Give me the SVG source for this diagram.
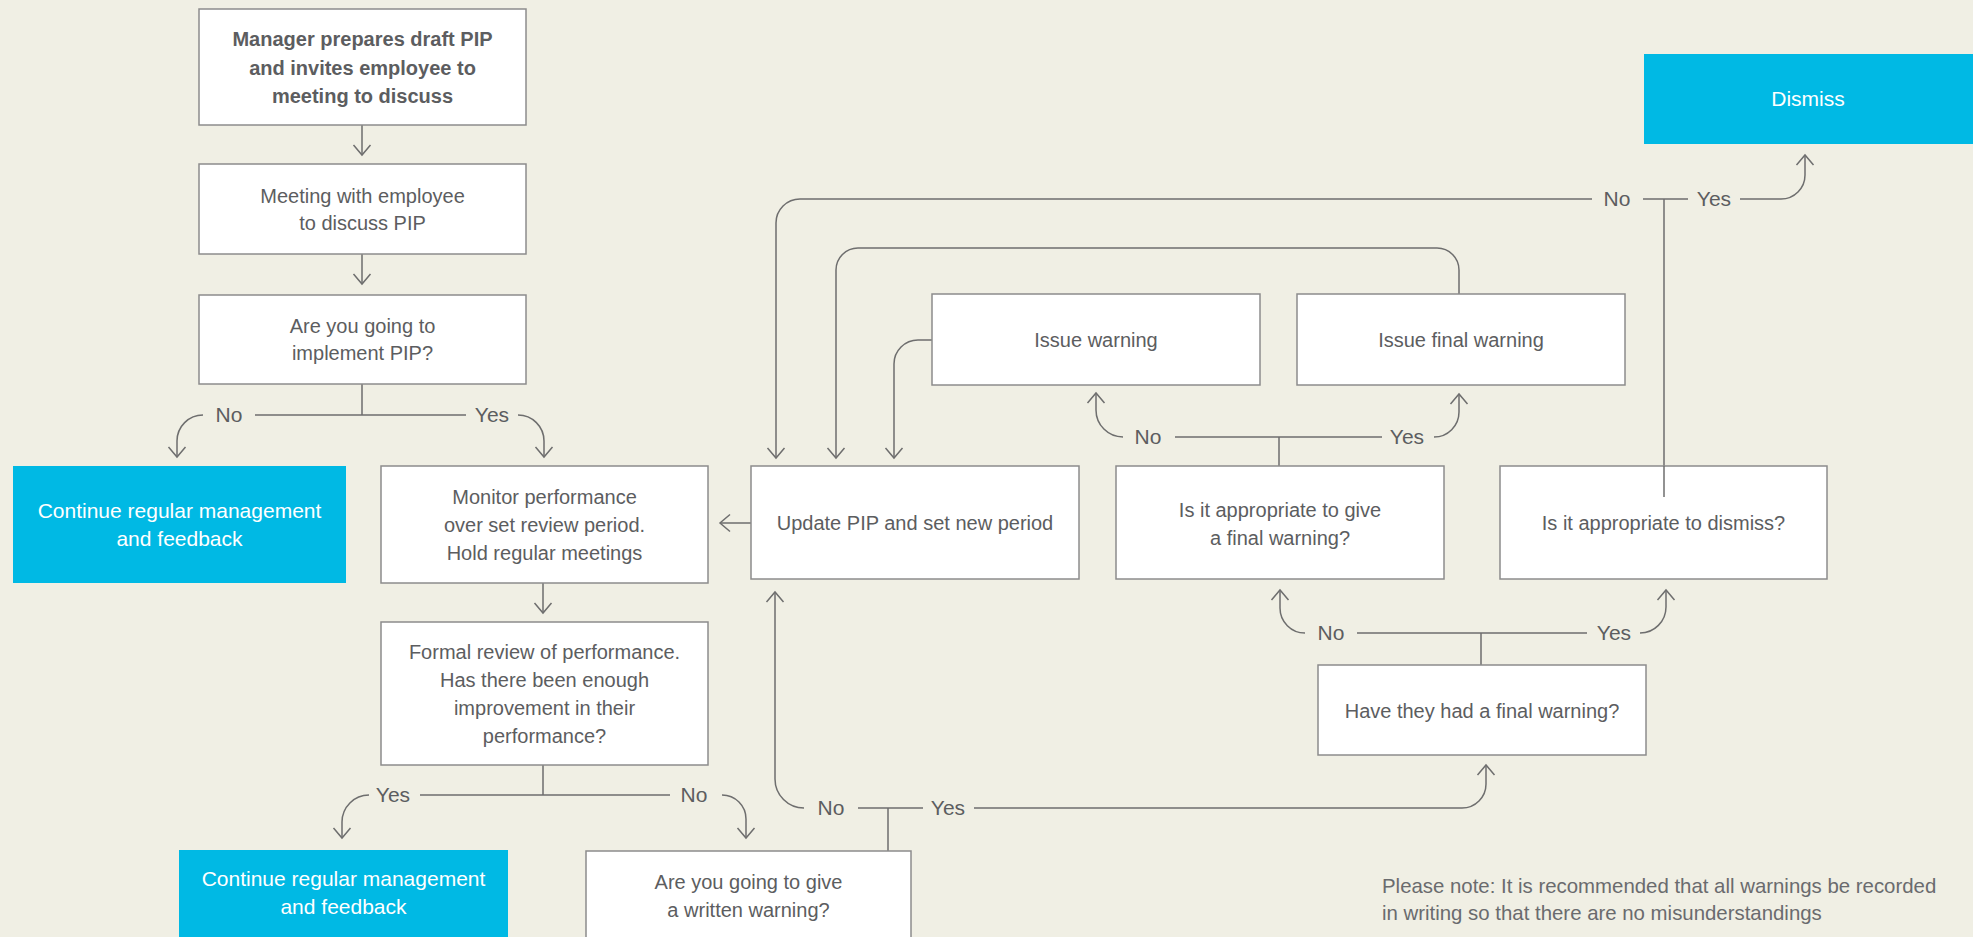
<svg xmlns="http://www.w3.org/2000/svg" width="1973" height="937" viewBox="0 0 1973 937">
<defs>
<style>
.box{fill:#ffffff;stroke:#8c8c8c;stroke-width:1.5}
.blue{fill:#00b9e4}
.t{font-family:"Liberation Sans",Arial,sans-serif;font-size:20px;fill:#5c5d60;text-anchor:middle}
.tb{font-weight:bold}
.tw{fill:#ffffff;font-size:21px}
.lbl{font-family:"Liberation Sans",Arial,sans-serif;font-size:21px;fill:#5c5d60;text-anchor:middle}
.note{font-family:"Liberation Sans",Arial,sans-serif;font-size:20.4px;fill:#6a6b6e}
.c{fill:none;stroke:#6e6e6e;stroke-width:1.5}
.ca{fill:none;stroke:#6e6e6e;stroke-width:1.5;marker-end:url(#ah)}
</style>
<marker id="ah" markerUnits="userSpaceOnUse" markerWidth="24" markerHeight="24" viewBox="-12 -12 24 24" refX="0" refY="0" orient="auto">
<path d="M-10,-8.5 L0,0 L-10,8.5" fill="none" stroke="#6e6e6e" stroke-width="1.5"/>
</marker>
</defs>
<rect width="1973" height="937" fill="#f0efe4"/>

<g id="connectors">
<path class="ca" d="M362,125 L362,155"/>
<path class="ca" d="M362,254 L362,284"/>
<path class="c" d="M362,384 L362,415 M255,415 L466,415"/>
<path class="ca" d="M203,415 A26,26 0 0 0 177,441 L177,457"/>
<path class="ca" d="M518,415 A26,26 0 0 1 544,441 L544,457"/>
<path class="ca" d="M543,583 L543,613"/>
<path class="c" d="M543,765 L543,795 M420,795 L670,795"/>
<path class="ca" d="M369,795 A27,27 0 0 0 342,822 L342,838"/>
<path class="ca" d="M722,795 A24,24 0 0 1 746,819 L746,838"/>
<path class="c" d="M888,851 L888,808 M858,808 L923,808"/>
<path class="ca" d="M804,808 A29,29 0 0 1 775,779 L775,592"/>
<path class="ca" d="M974,808 L1462,808 A24,24 0 0 0 1486,784 L1486,765"/>
<path class="c" d="M1481,665 L1481,633 M1357,633 L1587,633"/>
<path class="ca" d="M1305,633 A25,25 0 0 1 1280,608 L1280,590"/>
<path class="ca" d="M1640,633 A26,26 0 0 0 1666,607 L1666,590"/>
<path class="c" d="M1279,466 L1279,437 M1175,437 L1382,437"/>
<path class="ca" d="M1123,437 A27,27 0 0 1 1096,410 L1096,393"/>
<path class="ca" d="M1434,437 A25,25 0 0 0 1459,412 L1459,394"/>
<path class="c" d="M1664,466 L1664,199 M1643,199 L1688,199"/>
<path class="ca" d="M1740,199 L1781,199 A24,24 0 0 0 1805,175 L1805,155"/>
<path class="ca" d="M1592,199 L800,199 A24,24 0 0 0 776,223 L776,458"/>
<path class="ca" d="M1459,294 L1459,270 A22,22 0 0 0 1437,248 L858,248 A22,22 0 0 0 836,270 L836,458"/>
<path class="ca" d="M932,340 L918,340 A24,24 0 0 0 894,364 L894,458"/>
<path class="ca" d="M751,523 L720,523"/>
<text class="lbl" x="229" y="422">No</text>
<text class="lbl" x="492" y="422">Yes</text>
<text class="lbl" x="393" y="802">Yes</text>
<text class="lbl" x="694" y="802">No</text>
<text class="lbl" x="831" y="815">No</text>
<text class="lbl" x="948" y="815">Yes</text>
<text class="lbl" x="1331" y="640">No</text>
<text class="lbl" x="1614" y="640">Yes</text>
<text class="lbl" x="1148" y="444">No</text>
<text class="lbl" x="1407" y="444">Yes</text>
<text class="lbl" x="1617" y="206">No</text>
<text class="lbl" x="1714" y="206">Yes</text>
</g>

<g id="n-draft">
<rect class="box" x="199" y="9" width="327" height="116"/>
<text class="t tb" x="362.5" y="46">Manager prepares draft PIP</text>
<text class="t tb" x="362.5" y="75">and invites employee to</text>
<text class="t tb" x="362.5" y="103">meeting to discuss</text>
</g>
<g id="n-meeting">
<rect class="box" x="199" y="164" width="327" height="90"/>
<text class="t" x="362.5" y="203">Meeting with employee</text>
<text class="t" x="362.5" y="230">to discuss PIP</text>
</g>
<g id="n-implement">
<rect class="box" x="199" y="295" width="327" height="89"/>
<text class="t" x="362.5" y="333">Are you going to</text>
<text class="t" x="362.5" y="360">implement PIP?</text>
</g>
<g id="n-continue1">
<rect class="blue" x="13" y="466" width="333" height="117"/>
<text class="t tw" x="179.5" y="518">Continue regular management</text>
<text class="t tw" x="179.5" y="546">and feedback</text>
</g>
<g id="n-monitor">
<rect class="box" x="381" y="466" width="327" height="117"/>
<text class="t" x="544.5" y="504">Monitor performance</text>
<text class="t" x="544.5" y="532">over set review period.</text>
<text class="t" x="544.5" y="560">Hold regular meetings</text>
</g>
<g id="n-formal">
<rect class="box" x="381" y="622" width="327" height="143"/>
<text class="t" x="544.5" y="659">Formal review of performance.</text>
<text class="t" x="544.5" y="687">Has there been enough</text>
<text class="t" x="544.5" y="715">improvement in their</text>
<text class="t" x="544.5" y="743">performance?</text>
</g>
<g id="n-continue2">
<rect class="blue" x="179" y="850" width="329" height="92"/>
<text class="t tw" x="343.5" y="886">Continue regular management</text>
<text class="t tw" x="343.5" y="914">and feedback</text>
</g>
<g id="n-written">
<rect class="box" x="586" y="851" width="325" height="95"/>
<text class="t" x="748.5" y="889">Are you going to give</text>
<text class="t" x="748.5" y="917">a written warning?</text>
</g>
<g id="n-update">
<rect class="box" x="751" y="466" width="328" height="113"/>
<text class="t" x="915" y="530">Update PIP and set new period</text>
</g>
<g id="n-issue">
<rect class="box" x="932" y="294" width="328" height="91"/>
<text class="t" x="1096" y="347">Issue warning</text>
</g>
<g id="n-issuefinal">
<rect class="box" x="1297" y="294" width="328" height="91"/>
<text class="t" x="1461" y="347">Issue final warning</text>
</g>
<g id="n-finalq">
<rect class="box" x="1116" y="466" width="328" height="113"/>
<text class="t" x="1280" y="517">Is it appropriate to give</text>
<text class="t" x="1280" y="545">a final warning?</text>
</g>
<g id="n-dismissq">
<rect class="box" x="1500" y="466" width="327" height="113"/>
<text class="t" x="1663.5" y="530">Is it appropriate to dismiss?</text>
<path class="c" d="M1664,497 L1664,466"/>
</g>
<g id="n-hadfinal">
<rect class="box" x="1318" y="665" width="328" height="90"/>
<text class="t" x="1482" y="718">Have they had a final warning?</text>
</g>
<g id="n-dismiss">
<rect class="blue" x="1644" y="54" width="329" height="90"/>
<text class="t tw" x="1808" y="106">Dismiss</text>
</g>
<g id="note">
<text class="note" x="1382" y="893">Please note: It is recommended that all warnings be recorded</text>
<text class="note" x="1382" y="920">in writing so that there are no misunderstandings</text>
</g>
</svg>
